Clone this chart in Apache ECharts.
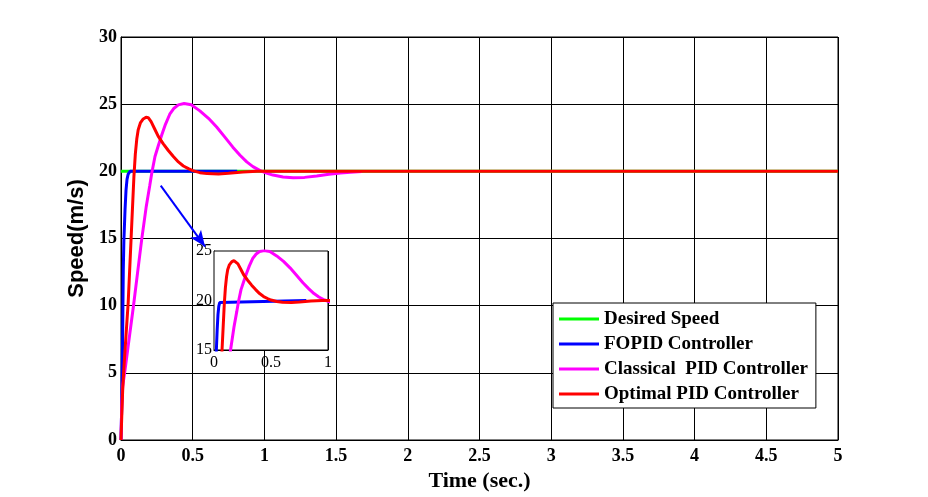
<!DOCTYPE html>
<html>
<head>
<meta charset="utf-8">
<script src="https://cdn.jsdelivr.net/npm/echarts@6/dist/echarts.min.js"></script>
<style>
  html, body { margin: 0; padding: 0; background: #fff; }
  #chart { width: 928px; height: 497px; }
</style>
</head>
<body>
<div id="chart"></div>
<script>
// [time (s), speed (m/s)]
var desiredSpeed = [[0, 20], [5, 20]];
var fopid = [
  [0, 0], [0.004, 2], [0.008, 4.5], [0.012, 8.5], [0.016, 12.7], [0.02, 14.8],
  [0.028, 17.1], [0.035, 18.6], [0.042, 19.4], [0.05, 19.8], [0.063, 20], [0.81, 20]
];
var classicalPid = [
  [0, 0], [0.005, 2.5], [0.012, 4], [0.028, 5.2], [0.05, 7.0], [0.086, 9.9],
  [0.115, 12.4], [0.144, 14.9], [0.175, 17.3], [0.2, 18.9], [0.215, 19.9],
  [0.237, 21.1], [0.26, 21.9], [0.284, 22.7], [0.31, 23.5], [0.34, 24.25],
  [0.37, 24.7], [0.4, 24.95], [0.44, 25.05], [0.49, 24.95], [0.55, 24.5],
  [0.61, 23.95], [0.667, 23.3], [0.72, 22.6], [0.78, 21.8], [0.83, 21.2],
  [0.877, 20.7], [0.92, 20.35], [0.97, 20.05], [1.02, 19.85], [1.06, 19.72],
  [1.13, 19.58], [1.2, 19.52], [1.28, 19.55], [1.365, 19.66], [1.45, 19.78],
  [1.53, 19.87], [1.6, 19.94], [1.68, 19.98]
];
var optimalPid = [
  [0, 0], [0.006, 2], [0.012, 3.8], [0.021, 5.5], [0.035, 7.8], [0.05, 10.2],
  [0.07, 14.9], [0.09, 19.6], [0.1, 21.3], [0.11, 22.4], [0.12, 23.1],
  [0.135, 23.6], [0.155, 23.9], [0.175, 24.03], [0.19, 24.0], [0.21, 23.7],
  [0.235, 23.15], [0.26, 22.6], [0.295, 22.05], [0.33, 21.55], [0.365, 21.1],
  [0.4, 20.7], [0.435, 20.4], [0.47, 20.2], [0.5, 20.05], [0.55, 19.9],
  [0.6, 19.83], [0.68, 19.8], [0.75, 19.85], [0.85, 19.95], [0.95, 20], [5, 20]
];
var seriesNames = ['Desired Speed', 'FOPID Controller', 'Classical  PID Controller', 'Optimal PID Controller'];
var seriesColors = ['#00ff00', '#0000ff', '#ff00ff', '#ff0000'];
var seriesData = [desiredSpeed, fopid, classicalPid, optimalPid];
// zoom arrow, from / to in main-axis units
var arrowFrom = [0.277, 18.94];
var arrowTo = [0.586, 14.4];

var serif = '"Liberation Serif", "Times New Roman", serif';

var chart = echarts.init(document.getElementById('chart'), null, { renderer: 'canvas' });

var series = [];
// main plot
seriesData.forEach(function (d, i) {
  var s = {
    name: seriesNames[i],
    type: 'line',
    xAxisIndex: 0,
    yAxisIndex: 0,
    data: d,
    showSymbol: false,
    symbol: 'none',
    animation: false,
    lineStyle: { color: seriesColors[i], width: 3 },
    itemStyle: { color: seriesColors[i] },
    z: 2 + i
  };
  if (i === 1) {
    s.markLine = {
      silent: true,
      animation: false,
      symbol: ['none', 'arrow'],
      symbolSize: [10, 16],
      label: { show: false },
      lineStyle: { color: '#0000ff', width: 2, type: 'solid' },
      data: [[{ coord: arrowFrom }, { coord: arrowTo }]]
    };
  }
  series.push(s);
});
// inset (zoom of 0..1 s), the desired speed is not drawn there
seriesData.forEach(function (d, i) {
  if (i === 0) return;
  series.push({
    name: seriesNames[i],
    type: 'line',
    xAxisIndex: 1,
    yAxisIndex: 1,
    data: d,
    showSymbol: false,
    symbol: 'none',
    animation: false,
    clip: true,
    lineStyle: { color: seriesColors[i], width: 3 },
    itemStyle: { color: seriesColors[i] },
    z: 20 + i
  });
});

var option = {
  backgroundColor: '#fff',
  animation: false,
  grid: [
    { left: 121, top: 37, width: 717, height: 403, show: true, borderColor: '#000', borderWidth: 1, backgroundColor: 'transparent' },
    { left: 214, top: 251, width: 114, height: 99, show: true, borderColor: '#000', borderWidth: 1, backgroundColor: '#fff', z: 15 }
  ],
  legend: {
    data: seriesNames,
    orient: 'vertical',
    left: 553,
    top: 303,
    icon: 'rect',
    itemWidth: 40,
    itemHeight: 3,
    itemGap: 5,
    padding: [6, 8, 4, 6],
    backgroundColor: '#fff',
    borderColor: '#000',
    borderWidth: 1,
    z: 30,
    textStyle: { fontFamily: serif, fontWeight: 'bold', fontSize: 19, color: '#000', lineHeight: 20 }
  },
  xAxis: [
    {
      type: 'value', gridIndex: 0, min: 0, max: 5, interval: 0.5,
      name: 'Time (sec.)', nameLocation: 'middle', nameGap: 25,
      nameTextStyle: { fontFamily: serif, fontWeight: 'bold', fontSize: 22, color: '#000' },
      axisLine: { lineStyle: { color: '#000', width: 1 } },
      axisTick: { show: false },
      axisLabel: { fontFamily: serif, fontWeight: 'bold', fontSize: 18, color: '#000', margin: 7 },
      splitLine: { show: true, lineStyle: { color: '#000', width: 1 } }
    },
    {
      type: 'value', gridIndex: 1, min: 0, max: 1, interval: 0.5,
      axisLine: { lineStyle: { color: '#000', width: 1 } },
      axisTick: { show: false },
      axisLabel: { fontFamily: serif, fontSize: 16, color: '#000', margin: 5 },
      splitLine: { show: true, lineStyle: { color: '#000', width: 1 } }
    }
  ],
  yAxis: [
    {
      type: 'value', gridIndex: 0, min: 0, max: 30, interval: 5,
      name: 'Speed(m/s)', nameLocation: 'middle', nameGap: 31,
      nameTextStyle: { fontFamily: '"Liberation Sans", Arial, sans-serif', fontWeight: 'bold', fontSize: 22, color: '#000' },
      axisLine: { lineStyle: { color: '#000', width: 1 } },
      axisTick: { show: false },
      axisLabel: { fontFamily: serif, fontWeight: 'bold', fontSize: 18, color: '#000', margin: 4 },
      splitLine: { show: true, lineStyle: { color: '#000', width: 1 } }
    },
    {
      type: 'value', gridIndex: 1, min: 15, max: 25, interval: 5,
      axisLine: { lineStyle: { color: '#000', width: 1 } },
      axisTick: { show: false },
      axisLabel: { fontFamily: serif, fontSize: 16, color: '#000', margin: 2 },
      splitLine: { show: false }
    }
  ],
  series: series
};

chart.setOption(option);
</script>
</body>
</html>
